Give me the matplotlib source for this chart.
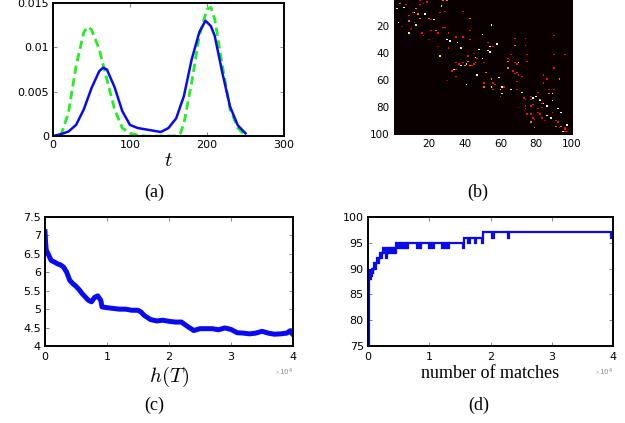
import numpy as np
import matplotlib
matplotlib.use('Agg')
import matplotlib.pyplot as plt
from matplotlib.ticker import FormatStrFormatter

plt.rcParams['mathtext.fontset'] = 'cm'
plt.rcParams['font.family'] = 'DejaVu Sans'

# (a) two densities over t
t_blue = [0, 10, 20, 30, 40, 50, 60, 65, 70, 80, 90, 100, 110, 120, 130, 140,
          150, 160, 170, 180, 190, 198, 205, 210, 220, 230, 240, 250]
p_blue = [0, 0.0002, 0.0005, 0.00125, 0.003, 0.0054, 0.0073, 0.0077, 0.0075,
          0.0055, 0.0028, 0.00125, 0.0009, 0.00075, 0.0006, 0.00045, 0.0009,
          0.002, 0.0045, 0.0086, 0.0117, 0.013, 0.0124, 0.0113, 0.0071,
          0.0033, 0.0012, 0.0003]
t_green = [10, 20, 30, 40, 45, 50, 60, 70, 80, 90, 100, 110, 120, 160, 165,
           170, 180, 190, 200, 205, 210, 220, 230, 240, 248]
p_green = [0, 0.0026, 0.0079, 0.0117, 0.0123, 0.012, 0.0098, 0.0064, 0.003,
           0.0009, 0.0003, 0.0001, 0, 0, 0.0002, 0.0014, 0.006, 0.0113,
           0.0143, 0.0145, 0.0132, 0.0079, 0.003, 0.0009, 0.0002]

# (b) non-zero matrix entries as (column, row), grouped by intensity
dots_red = [(7, 4), (11, 10), (15, 1), (15, 4), (17, 3), (19, 2), (9, 12), (12, 17),
            (21, 15), (26, 10), (29, 9), (39, 9), (16, 25), (17, 27), (21, 23), (25, 25),
            (28, 21), (29, 21), (31, 25), (35, 28), (39, 28), (31, 36), (43, 23), (43, 30),
            (56, 35), (53, 32), (47, 44), (42, 42), (39, 47), (37, 48), (44, 49), (45, 48),
            (51, 47), (35, 52), (33, 53), (35, 57), (35, 47), (56, 62), (57, 63), (51, 62),
            (56, 67), (62, 65), (60, 72), (64, 44), (66, 41), (68, 47), (69, 48), (67, 53),
            (68, 55), (69, 54), (70, 56), (72, 57), (75, 41), (75, 46), (68, 29), (74, 29),
            (74, 34), (69, 61), (69, 67), (73, 73), (74, 74), (77, 72), (77, 74), (81, 69),
            (83, 77), (78, 78), (81, 81), (81, 84), (82, 85), (83, 88), (84, 56), (84, 62),
            (86, 59), (87, 67), (90, 67), (77, 79), (74, 79), (74, 81), (75, 85), (77, 85),
            (78, 88), (79, 89), (83, 80), (90, 27), (90, 41), (90, 51), (96, 41), (89, 84),
            (91, 90), (92, 91), (93, 95), (96, 96), (96, 95), (96, 98), (97, 98)]
dots_orange = [(4, 3), (13, 7), (14, 11), (9, 16), (15, 14), (20, 14), (28, 1), (30, 1),
               (43, 14), (24, 23), (42, 46), (40, 49), (46, 47), (52, 54), (43, 49),
               (55, 59), (51, 65), (64, 46), (64, 51), (68, 34), (82, 74), (87, 70),
               (93, 59), (77, 91), (79, 95), (91, 94), (94, 94)]
dots_yellow = [(2, 7), (13, 19), (27, 5), (9, 25), (26, 42), (36, 32), (38, 36), (50, 26),
               (53, 38), (41, 48), (55, 65), (60, 67), (61, 70), (70, 47), (66, 67),
               (72, 69), (88, 88), (95, 98)]
dots_white = [(6, 6), (12, 10), (3, 17), (18, 11), (23, 15), (30, 30), (32, 31), (55, 19),
              (58, 33), (54, 35), (48, 37), (50, 44), (54, 39), (46, 43), (47, 56), (34, 52),
              (38, 49), (41, 63), (59, 58), (61, 65), (78, 73), (80, 72), (82, 75), (89, 70),
              (89, 75), (86, 79), (84, 77), (92, 81), (94, 84), (86, 86), (97, 93)]
dots_dark = [(10, 22), (20, 30), (45, 40), (60, 55), (70, 80), (85, 90), (30, 60),
             (5, 20), (25, 35), (65, 45)]
dot_levels = [(dots_dark, 0.22), (dots_red, 0.38), (dots_orange, 0.55),
              (dots_yellow, 0.75), (dots_white, 1.0)]

# (c) h(T) against iterations (x in units of 1e4)
h_x = [0, 0.01, 0.02, 0.05, 0.1, 0.15, 0.2, 0.25, 0.3, 0.35, 0.4, 0.45, 0.5, 0.55,
       0.6, 0.65, 0.7, 0.75, 0.8, 0.85, 0.9, 0.92, 1.0, 1.1, 1.2, 1.3, 1.4, 1.5,
       1.55, 1.6, 1.7, 1.8, 1.9, 2.0, 2.1, 2.2, 2.3, 2.4, 2.5, 2.6, 2.7, 2.8, 2.9,
       3.0, 3.1, 3.2, 3.3, 3.4, 3.5, 3.6, 3.7, 3.8, 3.9, 3.95, 4.0]
h_y = [7.1, 6.8, 6.6, 6.5, 6.32, 6.28, 6.23, 6.2, 6.14, 6.0, 5.78, 5.69, 5.62, 5.53,
       5.42, 5.33, 5.24, 5.2, 5.32, 5.36, 5.24, 5.06, 5.04, 5.02, 5.0, 5.0, 4.97, 4.97,
       4.92, 4.83, 4.72, 4.68, 4.7, 4.67, 4.65, 4.65, 4.53, 4.42, 4.47, 4.47, 4.47, 4.44,
       4.49, 4.45, 4.36, 4.35, 4.33, 4.35, 4.4, 4.35, 4.32, 4.33, 4.35, 4.41, 4.31]

# (d) number of matches, step changes (x in units of 1e4)
match_steps = [
    (0.012, 75), (0.014, 88), (0.025, 90), (0.035, 88), (0.045, 90),
    (0.055, 88.5), (0.065, 90), (0.075, 89), (0.085, 90), (0.095, 91), (0.11, 90),
    (0.125, 91), (0.15, 92), (0.165, 91), (0.18, 92), (0.2, 93), (0.215, 92),
    (0.23, 93), (0.245, 94), (0.26, 93), (0.275, 94), (0.3, 92), (0.315, 94),
    (0.33, 93), (0.35, 94), (0.365, 93), (0.38, 94), (0.4, 93), (0.42, 94),
    (0.44, 93), (0.46, 95), (0.48, 94), (0.5, 95), (0.52, 94), (0.54, 95),
    (0.56, 94), (0.58, 95), (0.6, 94), (0.62, 95), (0.64, 94), (0.66, 95),
    (0.8, 94), (0.82, 95), (0.85, 94), (0.87, 95), (1.0, 94), (1.02, 95),
    (1.05, 94), (1.07, 95), (1.2, 94), (1.22, 95), (1.25, 94), (1.27, 95),
    (1.3, 94), (1.32, 95), (1.55, 94), (1.57, 96), (1.64, 95), (1.66, 96),
    (1.74, 95), (1.77, 96), (1.86, 95), (1.88, 97), (2.03, 96), (2.06, 97),
    (2.28, 96), (2.31, 97), (3.96, 96), (4.0, 96)]

cap_font = dict(family='Liberation Serif', size=13)


def box_style(ax):
    for s in ax.spines.values():
        s.set_linewidth(1.4)
    ax.tick_params(direction='in', top=True, right=True, length=3,
                   width=0.6, color='0.45', pad=3, labelsize=8)


fig = plt.figure(figsize=(6.25, 4.23), dpi=100)

# (a)
ax = fig.add_axes([0.0848, 0.6785, 0.3696, 0.3144])
ax.plot(t_green, p_green, color='#22ee22', lw=2, linestyle=(0, (3, 1.6)))
ax.plot(t_blue, p_blue, color='#0a0af0', lw=1.8)
ax.set_xlim(0, 300)
ax.set_ylim(0, 0.015)
ax.set_xticks([0, 100, 200, 300])
ax.set_yticks([0, 0.005, 0.01, 0.015])
ax.yaxis.set_major_formatter(FormatStrFormatter('%g'))
box_style(ax)
ax.set_xlabel('$t$', fontsize=15, labelpad=0)

# (b)
M = np.zeros((100, 100))
for dots, v in dot_levels:
    for c, r in dots:
        M[r - 1, c - 1] = v
bx = fig.add_axes([0.6304, 0.6809, 0.2864, 0.3191])
bx.imshow(M, cmap='hot', vmin=0, vmax=1, interpolation='nearest',
          aspect='auto', extent=(0.5, 100.5, 100.5, 0.5))
bx.set_xticks([20, 40, 60, 80, 100])
bx.set_yticks([20, 40, 60, 80, 100])
bx.tick_params(direction='in', length=0, pad=3, labelsize=7.5)
for s in bx.spines.values():
    s.set_visible(False)

# (c)
cx = fig.add_axes([0.072, 0.182, 0.3968, 0.305])
cx.plot(np.array(h_x) * 1e4, h_y, color='#0a0af0', lw=3.6)
cx.set_xlim(0, 4e4)
cx.set_ylim(4, 7.5)
cx.set_yticks([4, 4.5, 5, 5.5, 6, 6.5, 7, 7.5])
cx.yaxis.set_major_formatter(FormatStrFormatter('%g'))
cx.ticklabel_format(axis='x', style='sci', scilimits=(0, 0), useMathText=True)
box_style(cx)
cx.xaxis.get_offset_text().set_fontsize(5)
cx.xaxis.get_offset_text().set_color('0.55')
cx.set_xlabel('$h(T)$', fontsize=15, labelpad=2)

# (d)
mx, my = zip(*match_steps)
dx = fig.add_axes([0.5888, 0.182, 0.392, 0.305])
dx.plot(np.array(mx) * 1e4, my, color='#0a0af0', lw=1.6, drawstyle='steps-post',
        solid_joinstyle='miter')
dx.set_xlim(0, 4e4)
dx.set_ylim(75, 100)
dx.set_yticks([75, 80, 85, 90, 95, 100])
dx.ticklabel_format(axis='x', style='sci', scilimits=(0, 0), useMathText=True)
box_style(dx)
dx.xaxis.get_offset_text().set_fontsize(5)
dx.xaxis.get_offset_text().set_color('0.55')
dx.set_xlabel('number of matches', fontsize=13, family='Liberation Serif', labelpad=2)

# captions
fig.text(154 / 625, 1 - 192 / 423, '(a)', ha='center', va='center', **cap_font)
fig.text(478 / 625, 1 - 192 / 423, '(b)', ha='center', va='center', **cap_font)
fig.text(154 / 625, 1 - 405 / 423, '(c)', ha='center', va='center', **cap_font)
fig.text(479 / 625, 1 - 405 / 423, '(d)', ha='center', va='center', **cap_font)

fig.savefig('out.png', dpi=100)
